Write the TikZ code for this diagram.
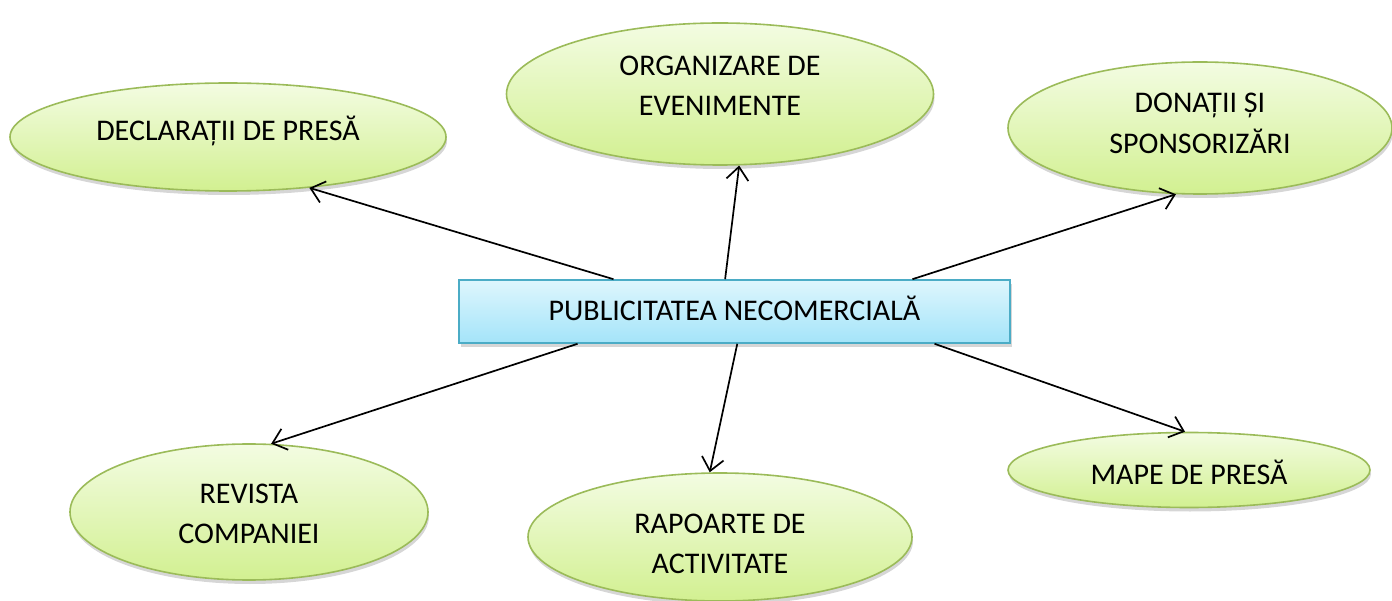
\documentclass[tikz,border=0pt]{standalone}
\usepackage{fontspec}
\setmainfont{Carlito}
\usetikzlibrary{shapes.geometric,arrows.meta,shadows,calc}
\definecolor{ellborder}{RGB}{155,187,89}
\definecolor{elltop}{RGB}{243,252,226}
\definecolor{ellbot}{RGB}{210,240,145}
\definecolor{boxborder}{RGB}{75,172,198}
\definecolor{boxtop}{RGB}{222,246,253}
\definecolor{boxbot}{RGB}{164,228,249}
\newcommand{\shifttext}[2]{\raisebox{#1}[\height][\depth]{\begin{tabular}{@{}c@{}}#2\end{tabular}}}
\tikzset{
  bubble/.style={ellipse, draw=ellborder, line width=1.6pt, inner sep=0pt,
    top color=elltop, bottom color=ellbot,
    font=\fontsize{30}{40.5}\selectfont,
    drop shadow={shadow xshift=1pt, shadow yshift=-4pt, fill=black, opacity=0.16}},
  centerbox/.style={rectangle, draw=boxborder, line width=1.6pt, inner sep=0pt,
    top color=boxtop, bottom color=boxbot,
    minimum width=551pt, minimum height=63pt,
    font=\fontsize{30}{40.5}\selectfont,
    drop shadow={shadow xshift=2pt, shadow yshift=-4pt, fill=black, opacity=0.16}},
  link/.style={draw=black, line width=1.7pt, -{Straight Barb[length=13pt,width=22pt,line width=1.7pt]}}
}
\begin{document}
\begin{tikzpicture}[x=1pt,y=-1pt]
\useasboundingbox (0,0) rectangle (1392,601);
\node[centerbox] (pub) at (734.5,311.5) {\shifttext{-1pt}{PUBLICITATEA NECOMERCIALĂ}};
\node[bubble, minimum width=436pt, minimum height=108pt] (decl) at (228,137) {\shifttext{4.6pt}{DECLARAȚII DE PRESĂ}};
\node[bubble, minimum width=427pt, minimum height=142pt] (org) at (720,94) {\shifttext{6.6pt}{ORGANIZARE DE\\EVENIMENTE}};
\node[bubble, minimum width=384pt, minimum height=132pt] (don) at (1200,128) {\shifttext{3pt}{DONAȚII ȘI\\SPONSORIZĂRI}};
\node[bubble, minimum width=358pt, minimum height=136pt] (rev) at (249,512) {\shifttext{-3.4pt}{REVISTA\\COMPANIEI}};
\node[bubble, minimum width=384pt, minimum height=128pt] (rap) at (720,537) {\shifttext{-8.4pt}{RAPOARTE DE\\ACTIVITATE}};
\node[bubble, minimum width=362pt, minimum height=75pt] (mape) at (1189,470) {\shifttext{-6.4pt}{MAPE DE PRESĂ}};
\draw[link] ($(pub.north west)!0.281!(pub.north east)$) -- (decl.-32);
\draw[link] ($(pub.north west)!0.483!(pub.north east)$) -- (org.-75);
\draw[link] ($(pub.north west)!0.822!(pub.north east)$) -- (don.-110);
\draw[link] ($(pub.south west)!0.216!(pub.south east)$) -- (rev.72);
\draw[link] ($(pub.south west)!0.505!(pub.south east)$) -- (rap.99);
\draw[link] ($(pub.south west)!0.862!(pub.south east)$) -- (mape.96);
\end{tikzpicture}
\end{document}
